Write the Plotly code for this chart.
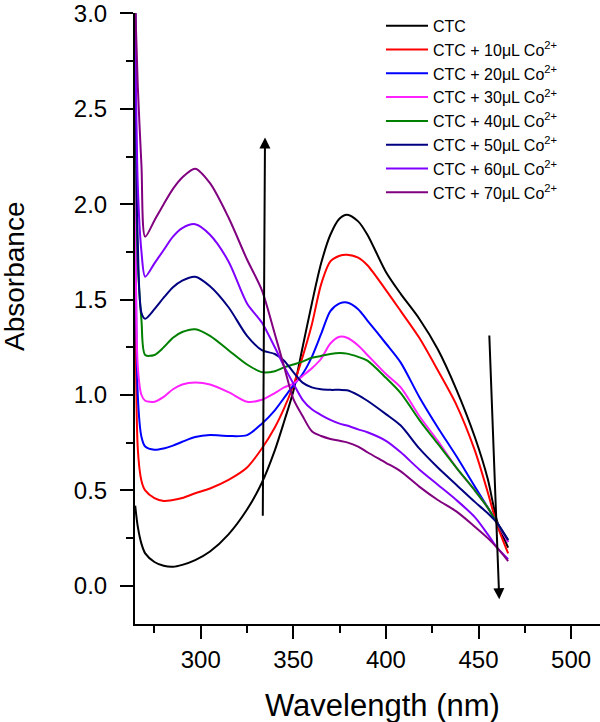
import plotly.graph_objects as go

wavelength = [264.6, 266, 268, 270, 275, 280, 285, 290, 297, 305, 315, 325, 333, 340, 345, 350,
              355, 360, 365, 370, 375, 379, 385, 390, 400, 408, 418, 428, 438, 448, 455, 460, 466]

ctc = [0.42, 0.31, 0.22, 0.17, 0.125, 0.105, 0.10, 0.11, 0.135, 0.18, 0.27, 0.40, 0.54, 0.71, 0.86, 1.02,
       1.25, 1.48, 1.69, 1.84, 1.925, 1.945, 1.91, 1.84, 1.645, 1.53, 1.40, 1.24, 1.03, 0.78, 0.56, 0.34, 0.20]
co10 = [3.0, 0.72, 0.55, 0.50, 0.46, 0.445, 0.45, 0.46, 0.485, 0.51, 0.555, 0.62, 0.72, 0.83, 0.93, 1.05,
        1.20, 1.37, 1.58, 1.70, 1.73, 1.735, 1.72, 1.68, 1.55, 1.44, 1.30, 1.13, 0.95, 0.71, 0.49, 0.32, 0.17]
co20 = [3.0, 1.0, 0.78, 0.73, 0.713, 0.72, 0.735, 0.755, 0.78, 0.79, 0.785, 0.79, 0.85, 0.92, 0.985, 1.05,
        1.11, 1.20, 1.32, 1.44, 1.48, 1.485, 1.45, 1.39, 1.27, 1.17, 0.99, 0.83, 0.68, 0.52, 0.41, 0.33, 0.23]
co30 = [3.0, 1.15, 1.0, 0.97, 0.965, 0.99, 1.03, 1.055, 1.065, 1.055, 1.015, 0.965, 0.975, 1.01, 1.04, 1.06,
        1.10, 1.14, 1.19, 1.27, 1.305, 1.30, 1.26, 1.21, 1.11, 1.04, 0.89, 0.76, 0.62, 0.50, 0.41, 0.33, 0.23]
co40 = [3.0, 1.7, 1.39, 1.21, 1.21, 1.25, 1.30, 1.33, 1.345, 1.31, 1.235, 1.16, 1.12, 1.125, 1.145, 1.16,
        1.175, 1.195, 1.205, 1.215, 1.22, 1.217, 1.20, 1.18, 1.09, 1.01, 0.87, 0.745, 0.62, 0.50, 0.41, 0.33, 0.24]
co50 = [3.0, 1.8, 1.43, 1.40, 1.45, 1.51, 1.565, 1.60, 1.62, 1.57, 1.46, 1.31, 1.235, 1.215, 1.18, 1.12,
        1.065, 1.04, 1.03, 1.027, 1.027, 1.025, 1.00, 0.97, 0.90, 0.84, 0.72, 0.62, 0.53, 0.44, 0.38, 0.33, 0.24]
co60 = [3.0, 2.1, 1.75, 1.62, 1.69, 1.76, 1.83, 1.875, 1.895, 1.84, 1.70, 1.48, 1.38, 1.25, 1.15, 1.06,
        0.975, 0.925, 0.895, 0.87, 0.85, 0.84, 0.82, 0.805, 0.76, 0.70, 0.61, 0.53, 0.45, 0.36, 0.27, 0.20, 0.14]
co70 = [3.05, 2.62, 2.2, 1.83, 1.915, 2.0, 2.08, 2.14, 2.186, 2.11, 1.93, 1.71, 1.55, 1.32, 1.15, 0.98,
        0.89, 0.81, 0.785, 0.77, 0.76, 0.752, 0.73, 0.70, 0.645, 0.60, 0.52, 0.45, 0.39, 0.31, 0.25, 0.20, 0.13]

series_names = ["CTC", "CTC + 10\u03bcL Co<sup>2+</sup>", "CTC + 20\u03bcL Co<sup>2+</sup>",
                "CTC + 30\u03bcL Co<sup>2+</sup>", "CTC + 40\u03bcL Co<sup>2+</sup>",
                "CTC + 50\u03bcL Co<sup>2+</sup>", "CTC + 60\u03bcL Co<sup>2+</sup>",
                "CTC + 70\u03bcL Co<sup>2+</sup>"]
series_values = [ctc, co10, co20, co30, co40, co50, co60, co70]
series_colors = ["#000000", "#ff0000", "#0000ff", "#ff22ff", "#008000", "#000080", "#8000ff", "#800080"]

# arrows: (tail x, tail y, head x, head y) in data units
arrow_up = [333.5, 0.36, 334.7, 2.35]
arrow_down = [455.8, 1.32, 461.2, -0.07]

x_ticks = [300, 350, 400, 450, 500]
y_ticks = [0.0, 0.5, 1.0, 1.5, 2.0, 2.5, 3.0]

fig = go.Figure()
for name, vals, col in zip(series_names, series_values, series_colors):
    fig.add_trace(go.Scatter(x=wavelength, y=vals, mode="lines", name=name,
                             line=dict(color=col, width=2, shape="spline", smoothing=0.8)))

font_family = "Liberation Sans, Arial, sans-serif"

for a in (arrow_up, arrow_down):
    fig.add_annotation(x=a[2], y=a[3], ax=a[0], ay=a[1], xref="x", yref="y", axref="x", ayref="y",
                       showarrow=True, arrowhead=2, arrowsize=1.1, arrowwidth=2, arrowcolor="black", text="")

fig.add_annotation(text="Absorbance", xref="paper", yref="paper", x=-0.258, y=0.568,
                   xanchor="center", yanchor="middle",
                   showarrow=False, textangle=-90, font=dict(family=font_family, size=28, color="black"))
fig.add_annotation(text="Wavelength (nm)", xref="paper", yref="paper", x=0.532, y=-0.134,
                   xanchor="center", yanchor="middle",
                   showarrow=False, font=dict(family=font_family, size=31, color="black"))

fig.update_xaxes(range=[264.5, 515.6], tickvals=x_ticks, ticktext=[str(v) for v in x_ticks],
                 ticks="outside", ticklen=13, tickwidth=2, tickcolor="black", automargin=False,
                 ticklabeloverflow="allow",
                 showline=True, linecolor="black", linewidth=2, showgrid=False, zeroline=False,
                 tickfont=dict(family=font_family, size=24, color="black"),
                 minor=dict(ticks="outside", ticklen=7, tickwidth=2, tickcolor="black", dtick=25, tick0=275, showgrid=False))
fig.update_yaxes(range=[-0.2, 3.002], tickvals=y_ticks, ticktext=["%.1f" % v for v in y_ticks],
                 ticks="outside", ticklen=13, tickwidth=2, tickcolor="black", ticklabelstandoff=8, automargin=False,
                 ticklabeloverflow="allow",
                 showline=True, linecolor="black", linewidth=2, showgrid=False, zeroline=False,
                 tickfont=dict(family=font_family, size=24, color="black"),
                 minor=dict(ticks="outside", ticklen=7, tickwidth=2, tickcolor="black", dtick=0.25, tick0=0, showgrid=False))

fig.update_layout(width=600, height=722, margin=dict(l=135, r=0, t=13, b=98, autoexpand=False),
                  paper_bgcolor="white", plot_bgcolor="white",
                  legend=dict(x=0.529, y=1.0069, xanchor="left", yanchor="top", bgcolor="rgba(0,0,0,0)",
                              itemwidth=42, font=dict(family=font_family, size=16, color="black"), tracegroupgap=0),
                  showlegend=True)

fig.write_html("out.html", config={"displayModeBar": False},
               post_script="document.body.style.margin='0px';")
